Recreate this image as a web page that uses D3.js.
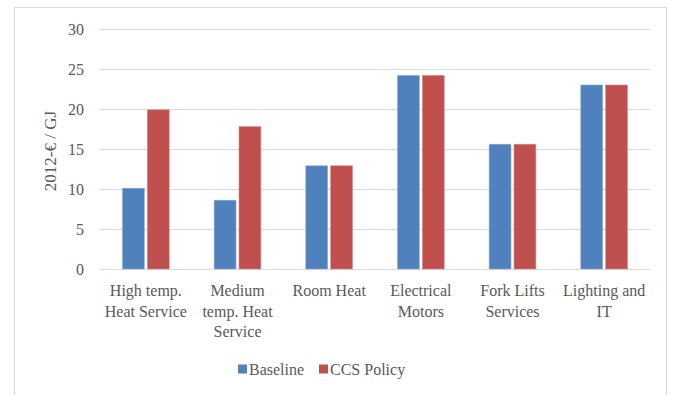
<!DOCTYPE html>
<html>
<head>
<meta charset="utf-8">
<script src="https://cdn.jsdelivr.net/npm/d3@7"></script>
<style>
  html, body { margin: 0; padding: 0; background: #fff; }
  svg { display: block; }
</style>
</head>
<body>
<svg id="chart" width="673" height="395" font-family="Liberation Serif"></svg>
<script>
// Service categories (line breaks as shown under the axis)
const categories = [
  ["High temp.", "Heat Service"],
  ["Medium", "temp. Heat", "Service"],
  ["Room Heat"],
  ["Electrical", "Motors"],
  ["Fork Lifts", "Services"],
  ["Lighting and", "IT"]
];
const seriesNames = ["Baseline", "CCS Policy"];
const baseline = [10.1, 8.6, 12.9, 24.2, 15.6, 23.0];
const ccsPolicy = [19.9, 17.8, 12.9, 24.2, 15.6, 23.0];
const yTicks = [0, 5, 10, 15, 20, 25, 30];
const colors = ["#4F81BD", "#C0504D"];
const serif = "Liberation Serif";
const textColor = "#595959";

const svg = d3.select("#chart");
const margin = { left: 100, right: 23, top: 29, bottom: 126 };
const W = 673, H = 395;
const plotW = W - margin.left - margin.right;
const plotH = H - margin.top - margin.bottom;

// outer frame
svg.append("rect")
  .attr("x", 14.5).attr("y", 7.5)
  .attr("width", 652).attr("height", 400)
  .attr("fill", "none").attr("stroke", "#d9d9d9").attr("stroke-width", 1);

const g = svg.append("g").attr("transform", `translate(${margin.left},${margin.top})`);

const x0 = d3.scaleBand()
  .domain(d3.range(categories.length))
  .range([0, plotW])
  .paddingInner(0.49).paddingOuter(0.245);
const x1 = d3.scaleBand()
  .domain([0, 1])
  .range([0, x0.bandwidth()])
  .paddingInner(0.12);
const y = d3.scaleLinear().domain([0, 30]).range([plotH, 0]);

// gridlines
g.append("g")
  .selectAll("line")
  .data(yTicks)
  .join("line")
  .attr("x1", 0).attr("x2", plotW)
  .attr("y1", d => Math.round(y(d)) + 0.5)
  .attr("y2", d => Math.round(y(d)) + 0.5)
  .attr("stroke", "#d9d9d9").attr("stroke-width", 1.2);

// y axis labels
const yAxis = d3.axisLeft(y).tickValues(yTicks).tickSize(0).tickPadding(16);
const ya = g.append("g").call(yAxis);
ya.attr("font-family", serif).attr("font-size", 16);
ya.select(".domain").remove();
ya.selectAll("text").attr("fill", textColor);

// y axis title
svg.append("text")
  .attr("transform", "translate(56,151) rotate(-90)")
  .attr("text-anchor", "middle")
  .attr("font-family", serif)
  .attr("font-size", 17).attr("fill", textColor)
  .text("2012-€ / GJ");

// bars
const values = [baseline, ccsPolicy];
const groups = g.selectAll("g.cat")
  .data(categories.map((c, i) => i))
  .join("g")
  .attr("class", "cat")
  .attr("transform", i => `translate(${x0(i)},0)`);

groups.selectAll("rect")
  .data(i => values.map((s, k) => ({ k, v: s[i] })))
  .join("rect")
  .attr("x", d => x1(d.k))
  .attr("y", d => y(d.v))
  .attr("width", x1.bandwidth())
  .attr("height", d => y(0) - y(d.v))
  .attr("fill", d => colors[d.k])
  .attr("stroke", d => d.k === 0 ? "#8fb0d8" : "#d98d8b")
  .attr("stroke-width", 0.6);

// category labels
const xa = g.append("g").attr("transform", `translate(0,${plotH})`);
categories.forEach((lines, i) => {
  const t = xa.append("text")
    .attr("x", x0(i) + x0.bandwidth() / 2)
    .attr("y", 27)
    .attr("text-anchor", "middle")
    .attr("font-family", serif)
    .attr("font-size", 16).attr("fill", textColor);
  lines.forEach((ln, j) => {
    t.append("tspan")
      .attr("x", x0(i) + x0.bandwidth() / 2)
      .attr("dy", j === 0 ? 0 : 20.7)
      .text(ln);
  });
});

// legend
const legend = svg.append("g").attr("transform", "translate(238,369)");
const legX = [0, 81];
seriesNames.forEach((name, k) => {
  const lg = legend.append("g").attr("transform", `translate(${legX[k]},0)`);
  lg.append("rect").attr("x", 0).attr("y", -4.5).attr("width", 9).attr("height", 9)
    .attr("fill", colors[k]);
  lg.append("text").attr("x", 11).attr("y", 5.5)
    .attr("font-family", serif)
    .attr("font-size", 16).attr("fill", textColor).text(name);
});
</script>
</body>
</html>
